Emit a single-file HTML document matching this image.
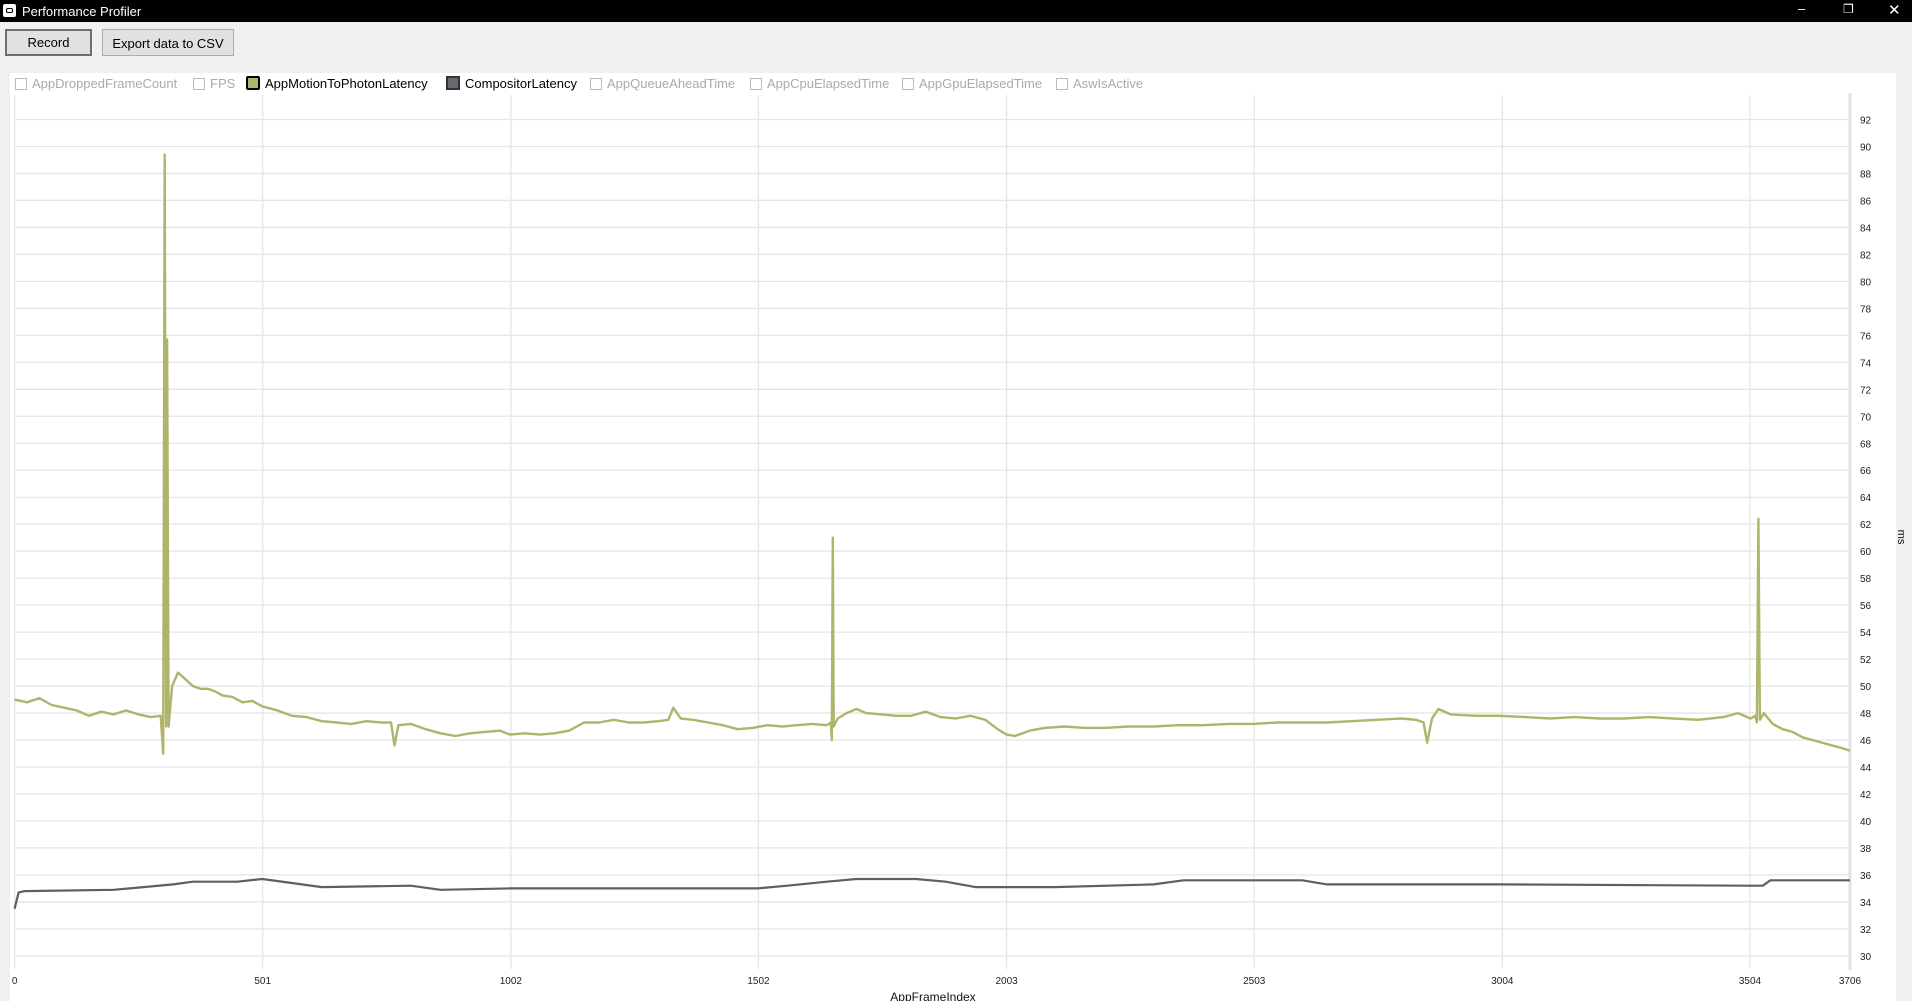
<!DOCTYPE html>
<html><head><meta charset="utf-8"><style>
html,body{margin:0;padding:0;width:1912px;height:1001px;overflow:hidden;background:#f0f0f0;font-family:"Liberation Sans",sans-serif;}
#titlebar{position:absolute;left:0;top:0;width:1912px;height:22px;background:#000;color:#fff;font-size:13px;}
.btn{position:absolute;top:29px;height:27px;background:#e1e1e1;border:1px solid #adadad;font-size:13px;line-height:27px;text-align:center;color:#000;box-sizing:border-box;}
#panel{position:absolute;left:10px;top:73px;width:1886px;height:928px;background:#fff;}
.leg{position:absolute;top:76px;font-size:13px;color:#aaa;height:16px;line-height:16px;white-space:nowrap;}
.cb{display:inline-block;width:12px;height:12px;border:1px solid #bbb;vertical-align:-2px;margin-right:5px;box-sizing:border-box;}
</style></head><body>
<div id="titlebar">
 <div style="position:absolute;left:3px;top:4px;width:13px;height:13px;background:#fff;border-radius:2px;"><div style="position:absolute;left:3px;top:4px;width:5px;height:3px;border:1px solid #000;border-radius:2px"></div></div>
 <span style="position:absolute;left:22px;top:4px;">Performance Profiler</span>
 <span style="position:absolute;left:1798px;top:1px;">–</span>
 <span style="position:absolute;left:1843px;top:2px;font-size:12px">❐</span>
 <span style="position:absolute;left:1888px;top:1px;font-size:15px">✕</span>
</div>
<div class="btn" style="left:5px;width:87px;border:2px solid #6e6e6e;line-height:23px">Record</div>
<div class="btn" style="left:102px;width:132px;">Export data to CSV</div>
<div id="panel"></div>
<div class="leg" style="left:15px"><span class="cb"></span>AppDroppedFrameCount</div>
<div class="leg" style="left:193px"><span class="cb"></span>FPS</div>
<div class="leg" style="left:246px;color:#000"><span class="cb" style="background:#b0b46a;border:2px solid #000;border-radius:2px;width:14px;height:14px"></span>AppMotionToPhotonLatency</div>
<div class="leg" style="left:446px;color:#000"><span class="cb" style="background:#6a6870;border:2px solid #333;width:14px;height:14px"></span>CompositorLatency</div>
<div class="leg" style="left:590px"><span class="cb"></span>AppQueueAheadTime</div>
<div class="leg" style="left:750px"><span class="cb"></span>AppCpuElapsedTime</div>
<div class="leg" style="left:902px"><span class="cb"></span>AppGpuElapsedTime</div>
<div class="leg" style="left:1056px"><span class="cb"></span>AswIsActive</div>
<svg id="chart" width="1912" height="1001" style="position:absolute;left:0;top:0"></svg>
<script>
const xTicks=[0,501,1002,1502,2003,2503,3004,3504,3706];
const yTicks=[30,32,34,36,38,40,42,44,46,48,50,52,54,56,58,60,62,64,66,68,70,72,74,76,78,80,82,84,86,88,90,92];
const motionFrames=[
0,25,50,75,100,125,150,175,200,225,
250,275,295,300,303,306,308,311,318,330,
345,360,375,390,405,420,440,460,480,500,
530,560,590,620,650,680,710,740,760,767,
775,800,830,860,890,920,950,980,1000,1030,
1060,1090,1120,1150,1180,1210,1240,1270,1300,1320,
1330,1345,1370,1400,1430,1460,1490,1520,1550,1580,
1610,1640,1648,1650,1652,1654,1662,1680,1700,1720,
1750,1780,1810,1840,1870,1900,1930,1960,1985,2003,
2020,2050,2080,2120,2160,2200,2250,2300,2350,2400,
2450,2500,2550,2600,2650,2700,2750,2800,2830,2845,
2852,2862,2875,2900,2950,3000,3050,3100,3150,3200,
3250,3300,3350,3400,3450,3480,3505,3515,3518,3521,
3524,3532,3550,3570,3590,3610,3630,3660,3690,3706];
const motionValues=[
49,48.8,49.1,48.6,48.4,48.2,47.8,48.1,47.9,48.2,
47.9,47.7,47.8,45,89.4,47,75.7,47,50,51,
50.5,50,49.8,49.8,49.6,49.3,49.2,48.8,48.9,48.5,
48.2,47.8,47.7,47.4,47.3,47.2,47.4,47.3,47.3,45.6,
47.1,47.2,46.8,46.5,46.3,46.5,46.6,46.7,46.4,46.5,
46.4,46.5,46.7,47.3,47.3,47.5,47.3,47.3,47.4,47.5,
48.4,47.6,47.5,47.3,47.1,46.8,46.9,47.1,47,47.1,
47.2,47.1,47.3,46,61,47,47.6,48,48.3,48,
47.9,47.8,47.8,48.1,47.7,47.6,47.8,47.5,46.8,46.4,
46.3,46.7,46.9,47,46.9,46.9,47,47,47.1,47.1,
47.2,47.2,47.3,47.3,47.3,47.4,47.5,47.6,47.5,47.3,
45.8,47.6,48.3,47.9,47.8,47.8,47.7,47.6,47.7,47.6,
47.6,47.7,47.6,47.5,47.7,48,47.6,47.8,47.3,62.4,
47.5,48,47.2,46.8,46.6,46.2,46,45.7,45.4,45.2];
const compFrames=[0,8,20,200,260,320,360,450,500,560,620,800,860,1000,1500,1560,1640,1700,1820,1880,1940,2000,2100,2300,2360,2600,2650,3000,3500,3530,3545,3706];
const compValues=[33.5,34.7,34.8,34.9,35.1,35.3,35.5,35.5,35.7,35.4,35.1,35.2,34.9,35,35,35.2,35.5,35.7,35.7,35.5,35.1,35.1,35.1,35.3,35.6,35.6,35.3,35.3,35.2,35.2,35.6,35.6];
const svg=document.getElementById('chart');const NS='http://www.w3.org/2000/svg';
const X0=14.6,X1=1850,Y0=119.5,YS=13.49;
function xs(f){return X0+(X1-X0)*f/3706;}
function ys(v){return Y0+(92-v)*YS;}
function mk(t,a){const e=document.createElementNS(NS,t);for(const k in a)e.setAttribute(k,a[k]);svg.appendChild(e);return e;}
yTicks.forEach(v=>{const l=mk('line',{x1:X0,x2:X1,y1:ys(v),y2:ys(v),stroke:'#e6e6e6','stroke-width':1.3});


const t=mk('text',{x:1860,y:ys(v)+4,'font-size':10,fill:'#222','font-family':'Liberation Sans, sans-serif'});t.textContent=v;

});
xTicks.forEach(f=>{const l=mk('line',{x1:xs(f),x2:xs(f),y1:95,y2:969,stroke:'#e6e6e6','stroke-width':1.3});


const t=mk('text',{x:xs(f),y:984,'font-size':10,fill:'#222','text-anchor':'middle','font-family':'Liberation Sans, sans-serif'});t.textContent=f;

});
const ax=mk('line',{x1:X1,x2:X1,y1:93,y2:970,stroke:'#e3e3e3','stroke-width':3});


function line(fr,vals,col,name,w){const p=fr.map((f,i)=>(i?'L':'M')+xs(f).toFixed(1)+' '+ys(vals[i]).toFixed(1)).join('');
const e=mk('path',{d:p,fill:'none',stroke:col,'stroke-width':w,'stroke-linejoin':'round'});

}
line(compFrames,compValues,'#5f5d66','compositor-latency-line',2.2);
line(motionFrames,motionValues,'#b0b46a','app-motion-to-photon-latency-line',2.4);
const xt=mk('text',{x:933,y:1001,'font-size':12,fill:'#111','text-anchor':'middle','font-family':'Liberation Sans, sans-serif'});xt.textContent='AppFrameIndex';


const yt=mk('text',{x:1898,y:537,'font-size':11,fill:'#111','text-anchor':'middle','font-family':'Liberation Sans, sans-serif',transform:'rotate(90 1898 537)'});yt.textContent='ms';


</script>
</body></html>
